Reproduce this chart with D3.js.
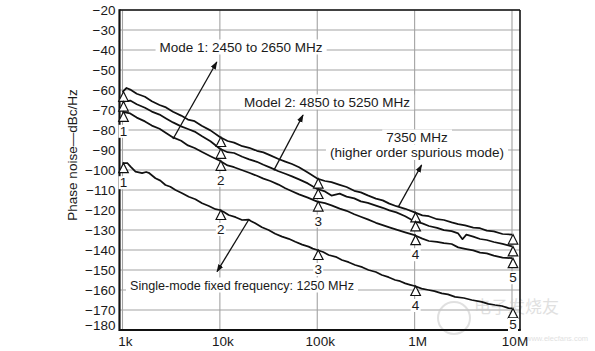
<!DOCTYPE html>
<html lang="en">
<head>
  <meta charset="UTF-8">
  <title>Phase noise vs offset frequency</title>
  <script src="https://d3js.org/d3.v7.min.js"></script>
  <style>
    body {
      margin: 0;
      background-color: #fff;
    }
    #chart {
      display: block;
      font-family: "Liberation Sans", Arial, sans-serif;
    }
  </style>
</head>
<body>
  <svg id="chart" width="595" height="351"></svg>

  <script>
    // axis ticks
    const yTicks = [-20, -30, -40, -50, -60, -70, -80, -90, -100, -110, -120, -130, -140, -150, -160, -170, -180];
    const xTicks = [1e3, 1e4, 1e5, 1e6, 1e7];
    const xTickLabels = ["1k", "10k", "100k", "1M", "10M"];
    const markerLabels = ["1", "2", "3", "4", "5"];

    // traces: [offset frequency Hz, phase noise dBc/Hz]
    const spurious7350 = [
      [1000, -60.9], [1100, -59.0], [1200, -59.8], [1400, -61.9], [1700, -63.4], [2000, -65.6], [2400, -67.5],
      [2800, -68.7], [3300, -70.9], [4000, -72.8], [4700, -74.8], [5500, -75.6], [6500, -77.9], [8000, -80.2],
      [10000, -83.5], [12000, -85.5], [14000, -86.3], [17000, -88.1], [20000, -88.9], [24000, -90.4], [28000, -91.2],
      [33000, -92.7], [40000, -94.5], [47000, -95.8], [55000, -97.0], [65000, -98.6], [80000, -101.3],
      [100000, -104.3], [120000, -105.5], [140000, -106.1], [170000, -107.4], [200000, -108.5], [240000, -110.4],
      [280000, -111.2], [330000, -112.7], [400000, -114.3], [470000, -115.2], [550000, -116.8], [650000, -118.1],
      [800000, -119.4], [1000000, -121.2], [1200000, -122.7], [1400000, -123.1], [1700000, -124.6], [2000000, -125.0],
      [2400000, -126.2], [2800000, -127.1], [3300000, -127.7], [4000000, -128.8], [4700000, -129.1],
      [5500000, -130.3], [6500000, -130.7], [8000000, -132.0], [10000000, -132.3]
    ];
    const model2 = [
      [1000, -65.8], [1200, -65.3], [1400, -67.1], [1700, -68.9], [2000, -70.8], [2400, -72.3], [2800, -74.2],
      [3300, -76.2], [4000, -78.2], [4700, -79.5], [5500, -80.8], [6500, -83.0], [8000, -85.6], [10000, -89.4],
      [12000, -91.1], [14000, -91.5], [17000, -93.4], [20000, -94.7], [24000, -95.9], [28000, -97.4], [33000, -98.8],
      [40000, -100.6], [47000, -101.9], [55000, -103.2], [65000, -104.7], [80000, -106.7], [100000, -109.5],
      [120000, -110.7], [140000, -112.8], [170000, -111.8], [200000, -113.3], [240000, -114.2], [280000, -115.7],
      [330000, -116.4], [400000, -117.8], [470000, -118.9], [550000, -120.2], [650000, -121.2], [800000, -123.1],
      [1000000, -125.7], [1200000, -126.7], [1400000, -128.0], [1700000, -128.9], [2000000, -130.1],
      [2400000, -130.6], [2800000, -131.7], [3100000, -134.6], [3400000, -132.3], [4000000, -133.3],
      [4700000, -134.5], [5500000, -135.0], [6500000, -136.0], [8000000, -136.9], [10000000, -138.2]
    ];
    const mode1 = [
      [1000, -70.9], [1200, -71.7], [1400, -73.8], [1700, -75.7], [2000, -77.8], [2400, -79.4], [2800, -81.5],
      [3300, -83.7], [4000, -85.4], [4700, -87.7], [5500, -89.0], [6500, -90.9], [8000, -93.1], [10000, -95.4],
      [12000, -97.7], [14000, -98.6], [17000, -100.1], [20000, -101.4], [24000, -102.9], [28000, -104.3],
      [33000, -105.5], [40000, -107.3], [47000, -109.1], [55000, -110.6], [65000, -112.2], [80000, -113.8],
      [100000, -115.8], [120000, -116.6], [140000, -117.7], [170000, -119.3], [200000, -120.4], [240000, -122.1],
      [280000, -123.4], [330000, -124.7], [400000, -126.4], [470000, -127.6], [550000, -128.7], [650000, -129.8],
      [800000, -131.2], [1000000, -132.6], [1200000, -134.3], [1400000, -135.5], [1700000, -135.9],
      [2000000, -136.6], [2400000, -137.0], [2800000, -138.7], [3300000, -139.4], [4000000, -140.2],
      [4700000, -141.3], [5500000, -141.7], [6500000, -142.8], [8000000, -143.8], [10000000, -144.1]
    ];
    const singleMode = [
      [1000, -96.6], [1120, -96.5], [1210, -98.3], [1360, -100.8], [1590, -101.6], [1750, -101.0], [1860, -101.4],
      [2180, -104.1], [2450, -105.3], [2760, -107.5], [3100, -108.4], [3500, -110.0], [4100, -111.6],
      [4790, -113.4], [5600, -114.6], [6570, -116.6], [7700, -118.0], [9000, -119.6], [10000, -120.0],
      [11000, -121.0], [12300, -122.5], [14500, -123.6], [16900, -125.0], [18200, -124.9], [19700, -124.8],
      [21000, -125.6], [23100, -126.6], [27000, -128.6], [31600, -130.0], [37000, -131.9], [43500, -133.3],
      [51000, -134.4], [59500, -135.9], [70000, -137.3], [81400, -138.3], [90000, -139.3], [100000, -140.0],
      [115000, -141.0], [131000, -142.5], [155000, -143.4], [179000, -145.0], [210000, -146.1], [245000, -147.5],
      [290000, -148.6], [336000, -150.0], [400000, -151.0], [461000, -152.5], [540000, -153.6], [631000, -155.0],
      [710000, -155.6], [800000, -156.7], [900000, -157.4], [1000000, -158.0], [1180000, -159.3],
      [1390000, -160.0], [1600000, -160.6], [1900000, -161.7], [2200000, -162.2], [2600000, -163.4],
      [3200000, -164.0], [3860000, -165.0], [4890000, -165.9], [5700000, -166.9], [6700000, -167.5],
      [7900000, -168.0], [9200000, -169.1], [10000000, -169.2]
    ];

    // pointer arrows: from a trace up to its label
    const arrows = [
      { from: [3300, -84.5], to: [9300, -46] },
      { from: [35800, -100.2], to: [71500, -72.5] },
      { from: [682000, -118.3], to: [1180000, -97.5] },
      { from: [19700, -125.0], to: [9350, -150.8] }
    ];

    const labels = [
      { text: "Mode 1: 2450 to 2650 MHz", x: 241, y: 51.5, size: 13.5, anchor: "middle" },
      { text: "Model 2: 4850 to 5250 MHz", x: 327, y: 106.5, size: 13.5, anchor: "middle" },
      { text: "7350 MHz", x: 417, y: 141.5, size: 13.5, anchor: "middle" },
      { text: "(higher order spurious mode)", x: 417, y: 157, size: 13.5, anchor: "middle" },
      { text: "Single-mode fixed frequency: 1250 MHz", x: 130, y: 289.5, size: 12.6, anchor: "start" }
    ];

    const svg = d3.select("#chart");

    const x = d3.scaleLog().domain([1e3, 1e7]).range([122.5, 512]);
    const y = d3.scaleLinear().domain([-180, -20]).range([330, 10]);

    const plotLeft = x(1e3) - 3;
    const plotRight = x(1e7) + 8;
    const plotTop = y(-20);
    const plotBottom = y(-180);
    const gridColor = "#a3a3a3";

    // grid
    svg.append("g")
      .selectAll("line")
      .data(yTicks)
      .enter()
      .append("line")
      .attr("x1", plotLeft)
      .attr("x2", plotRight)
      .attr("y1", (d) => y(d))
      .attr("y2", (d) => y(d))
      .attr("stroke", gridColor)
      .attr("stroke-width", 1.1);

    svg.append("g")
      .selectAll("line")
      .data(xTicks)
      .enter()
      .append("line")
      .attr("x1", (d) => x(d))
      .attr("x2", (d) => x(d))
      .attr("y1", plotTop)
      .attr("y2", plotBottom)
      .attr("stroke", gridColor)
      .attr("stroke-width", 1.1);

    // faint watermark (sits under the chart marks)
    const wm = svg.append("g").attr("opacity", 0.55);
    wm.append("circle").attr("cx", 454).attr("cy", 318).attr("r", 16)
      .attr("fill", "none").attr("stroke", "#c8c8c8").attr("stroke-width", 2);
    wm.append("text").attr("x", 474).attr("y", 313).style("font-size", "17px")
      .style("font-family", "'Noto Sans CJK SC'").attr("fill", "#c8c8c8").text("电子发烧友");
    wm.append("text").attr("x", 526).attr("y", 341).style("font-size", "7.5px")
      .attr("fill", "#c8c8c8").text("www.elecfans.com");

    // annotation text with white boxes that break the grid
    const labelG = svg.append("g");
    labels.forEach((l) => {
      const box = labelG.append("rect").attr("fill", "#fff");
      const t = labelG.append("text")
        .attr("x", l.x)
        .attr("y", l.y)
        .attr("text-anchor", l.anchor)
        .style("font-size", l.size + "px")
        .attr("fill", "#1a1a1a")
        .text(l.text);
      const bb = t.node().getBBox();
      box.attr("x", bb.x - 4)
        .attr("y", l.y - 12)
        .attr("width", bb.width + 8)
        .attr("height", 15);
    });

    // traces
    const line = d3.line()
      .x((d) => x(d[0]))
      .y((d) => y(d[1]));

    const traces = [spurious7350, model2, mode1, singleMode];
    svg.append("g")
      .selectAll("path")
      .data(traces)
      .enter()
      .append("path")
      .attr("d", line)
      .attr("fill", "none")
      .attr("stroke", "#111")
      .attr("stroke-width", 1.75)
      .attr("stroke-linejoin", "round");

    // arrows
    svg.append("defs")
      .append("marker")
      .attr("id", "head")
      .attr("viewBox", "0 0 10 10")
      .attr("refX", 9)
      .attr("refY", 5)
      .attr("markerWidth", 8)
      .attr("markerHeight", 8)
      .attr("markerUnits", "userSpaceOnUse")
      .attr("orient", "auto")
      .append("path")
      .attr("d", "M0,1.5 L10,5 L0,8.5 Z")
      .attr("fill", "#111");

    svg.append("g")
      .selectAll("line")
      .data(arrows)
      .enter()
      .append("line")
      .attr("x1", (d) => x(d.from[0]))
      .attr("y1", (d) => y(d.from[1]))
      .attr("x2", (d) => x(d.to[0]))
      .attr("y2", (d) => y(d.to[1]))
      .attr("stroke", "#111")
      .attr("stroke-width", 1.3)
      .attr("marker-end", "url(#head)");

    // frame
    const frame = svg.append("g").attr("stroke", "#111");
    frame.append("line").attr("x1", plotLeft).attr("x2", plotRight).attr("y1", plotTop).attr("y2", plotTop).attr("stroke-width", 1.5);
    frame.append("line").attr("x1", plotRight).attr("x2", plotRight).attr("y1", plotTop).attr("y2", plotBottom).attr("stroke-width", 1.6);
    frame.append("line").attr("x1", plotLeft).attr("x2", plotLeft).attr("y1", plotTop - 0.8).attr("y2", plotBottom + 1).attr("stroke-width", 2.2);
    frame.append("line").attr("x1", plotLeft).attr("x2", plotRight + 0.8).attr("y1", plotBottom).attr("y2", plotBottom).attr("stroke-width", 2.2);

    // tick labels
    const fmt = (v) => (v < 0 ? "\u2212" + Math.abs(v) : String(v));
    svg.append("g")
      .selectAll("text")
      .data(yTicks)
      .enter()
      .append("text")
      .attr("x", plotLeft - 4)
      .attr("y", (d) => (d === -180 ? y(d) : y(d) + 5))
      .attr("text-anchor", "end")
      .style("font-size", "13.5px")
      .attr("fill", "#1a1a1a")
      .text(fmt);

    svg.append("g")
      .selectAll("text")
      .data(xTicks)
      .enter()
      .append("text")
      .attr("x", (d) => x(d) + 3)
      .attr("y", plotBottom + 16)
      .attr("text-anchor", "middle")
      .style("font-size", "13.5px")
      .attr("fill", "#1a1a1a")
      .text((d, i) => xTickLabels[i]);

    svg.append("text")
      .attr("transform", `translate(77,155) rotate(-90)`)
      .attr("text-anchor", "middle")
      .style("font-size", "13.5px")
      .attr("fill", "#1a1a1a")
      .text("Phase noise\u2014dBc/Hz");

    // decade markers (open triangles with apex on the trace)
    const valueAt = (s, f) => s.find((d) => d[0] === f)[1];
    const tri = (px, py) => `M${px},${py} L${px + 4.8},${py + 9.5} L${px - 4.8},${py + 9.5} Z`;
    const markG = svg.append("g");
    traces.forEach((s) => {
      markG.selectAll(null)
        .data(xTicks)
        .enter()
        .append("path")
        .attr("d", (f) => tri(x(f) + 1, y(valueAt(s, f))))
        .attr("fill", "#fff")
        .attr("stroke", "#111")
        .attr("stroke-width", 1.2);
    });

    // marker numbers under each group
    const groups = [[spurious7350, model2, mode1], [singleMode]];
    groups.forEach((g) => {
      xTicks.forEach((f, i) => {
        const low = d3.min(g, (s) => valueAt(s, f));
        const px = x(f) + 1;
        const py = Math.min(y(low) + 24, plotBottom - 1);
        markG.append("rect")
          .attr("x", px - 5)
          .attr("y", py - 11)
          .attr("width", 10)
          .attr("height", 13)
          .attr("fill", "#fff");
        markG.append("text")
          .attr("x", px)
          .attr("y", py)
          .attr("text-anchor", "middle")
          .style("font-size", "13.5px")
          .attr("fill", "#1a1a1a")
          .text(markerLabels[i]);
      });
    });
  </script>
</body>
</html>
